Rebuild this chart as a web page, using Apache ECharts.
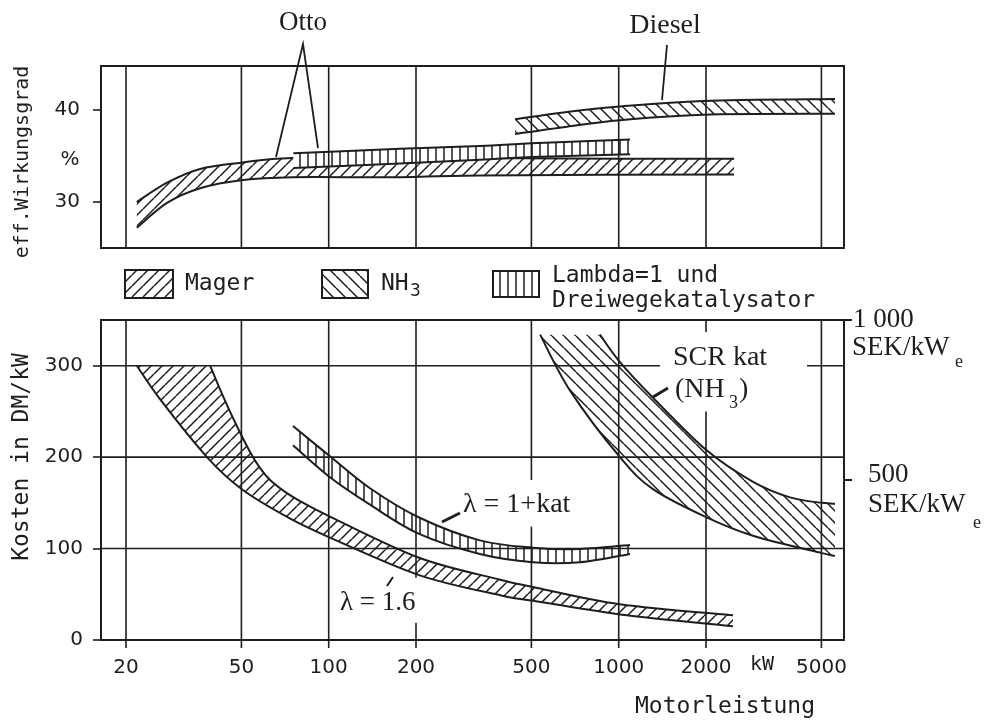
<!DOCTYPE html>
<html>
<head>
<meta charset="utf-8">
<title>Wirkungsgrad und Kosten</title>
<script src="https://cdn.jsdelivr.net/npm/echarts@6/dist/echarts.min.js"></script>
<style>
  html, body { margin: 0; padding: 0; background: #fff; }
  #chart { width: 996px; height: 725px; }
</style>
</head>
<body>
<div id="chart"></div>
<script>
// Achsen
const kwTicks = [20, 50, 100, 200, 500, 1000, 2000, 5000];
const effTicks = [30, 40];
const costTicks = [0, 100, 200, 300];
const sekTicks = [500, 1000];

// eff. Wirkungsgrad in %, Bandränder als [kW, %]
const effMagerTop = [[21.8, 30.0], [27.7, 32.1], [36, 33.6], [50.6, 34.3], [75, 34.8], [200, 34.8], [1000, 34.7], [2500, 34.7]];
const effMagerBottom = [[21.8, 27.2], [27.7, 29.9], [36, 31.5], [50.6, 32.4], [75, 32.7], [176, 32.7], [333, 32.9], [2500, 33.0]];
const effLambdaTop = [[75.5, 35.3], [176, 35.8], [333, 36.1], [500, 36.4], [1094, 36.8]];
const effLambdaBottom = [[75.5, 33.7], [176, 34.2], [333, 34.6], [500, 34.9], [1094, 35.2]];
const effDieselTop = [[439, 39.0], [663, 39.8], [1010, 40.4], [1953, 41.0], [5570, 41.2]];
const effDieselBottom = [[439, 37.4], [663, 38.2], [1010, 38.9], [1953, 39.5], [5570, 39.6]];

// Kosten in DM/kW, Bandränder als [kW, DM/kW]
const costMagerUpper = [[39, 300], [42.9, 269], [47.9, 236], [53.5, 206], [58, 188], [62.8, 175], [70.7, 162], [79.6, 152],
  [101, 135], [205, 90], [390, 66], [506, 58], [1010, 39], [2478, 27]];
const costMagerLower = [[21.8, 300], [26.4, 262], [38.3, 199], [50.6, 164], [73.4, 133], [101, 112], [205, 71], [390, 49],
  [506, 43], [1010, 28], [2478, 15]];
const costLambdaUpper = [[75.3, 234], [101, 201], [138.8, 166], [205, 134], [332, 109], [506, 101], [736, 99.5], [1094, 104]];
const costLambdaLower = [[75.3, 213], [101, 178], [138.8, 148], [205, 116], [332, 94], [506, 85], [736, 85], [1094, 94]];
const costScrUpper = [[862, 334], [1010, 304], [1313, 265], [2000, 208], [2905, 173], [3897, 156], [5024, 150], [5570, 149]];
const costScrLower = [[536, 334], [679, 273], [1010, 200], [1313, 165], [1984, 135], [2905, 114], [5024, 95], [5570, 92]];

// Lücken im Gitter (für Beschriftungen): [kW, von, bis] bzw. [DM/kW, von kW, bis kW]
const costGapsV = [[200, 19, 68], [500, 124, 175], [2000, 250, 337]];
const costGapsH = [[300, 1387, 4460]];

const KW_MIN = 16.4, KW_MAX = 5982;
const ink = '#1e1e1e';
const mono = '"DejaVu Sans Mono", monospace';
const serif = '"Liberation Serif", serif';
const sans = '"DejaVu Sans", sans-serif';

// Schraffur-Muster
function hatch(kind, size) {
  const c = document.createElement('canvas');
  c.width = c.height = size;
  const g = c.getContext('2d');
  g.fillStyle = '#fff';
  g.fillRect(0, 0, size, size);
  g.strokeStyle = ink;
  g.lineWidth = 1.5;
  g.beginPath();
  if (kind === 'vert') {
    g.moveTo(size / 2, 0);
    g.lineTo(size / 2, size);
  } else {
    for (const k of [-size, 0, size]) {
      if (kind === 'fwd') {
        g.moveTo(k, size);
        g.lineTo(k + size, 0);
      } else {
        g.moveTo(k, 0);
        g.lineTo(k + size, size);
      }
    }
  }
  g.stroke();
  return { image: c, repeat: 'repeat' };
}
const patMager = hatch('fwd', 11);
const patNh3 = hatch('back', 12);
const patLambda = hatch('vert', 8);

// glatte Kurve (Catmull-Rom) durch Pixelpunkte
function curvePath(pts, cmd) {
  let d = cmd + pts[0][0] + ',' + pts[0][1];
  for (let i = 0; i < pts.length - 1; i++) {
    const p0 = pts[Math.max(i - 1, 0)], p1 = pts[i], p2 = pts[i + 1], p3 = pts[Math.min(i + 2, pts.length - 1)];
    const c1 = [p1[0] + (p2[0] - p0[0]) / 6, p1[1] + (p2[1] - p0[1]) / 6];
    const c2 = [p2[0] - (p3[0] - p1[0]) / 6, p2[1] - (p3[1] - p1[1]) / 6];
    d += ' C' + c1[0] + ',' + c1[1] + ' ' + c2[0] + ',' + c2[1] + ' ' + p2[0] + ',' + p2[1];
  }
  return d;
}

function bandSeries(name, gi, upper, lower, pattern) {
  return {
    name: name,
    type: 'custom',
    xAxisIndex: gi,
    yAxisIndex: gi,
    z: 3,
    silent: true,
    data: [upper[0]],
    renderItem: (params, api) => {
      const up = upper.map(p => api.coord(p));
      const lo = lower.map(p => api.coord(p));
      const area = curvePath(up, 'M') + ' ' + curvePath(lo.slice().reverse(), 'L') + ' Z';
      return {
        type: 'group',
        children: [
          { type: 'path', shape: { pathData: area }, style: { fill: pattern, stroke: 'none' } },
          { type: 'path', shape: { pathData: curvePath(up, 'M') }, style: { fill: 'none', stroke: ink, lineWidth: 2 } },
          { type: 'path', shape: { pathData: curvePath(lo, 'M') }, style: { fill: 'none', stroke: ink, lineWidth: 2 } }
        ]
      };
    }
  };
}

// Gitterlinien (log. Teilung 20, 50, 100 ...) und x-Beschriftung
function gridSeries(gi, yMin, yMax, hLines, gapsV, gapsH, withLabels) {
  return {
    type: 'custom',
    xAxisIndex: gi,
    yAxisIndex: gi,
    z: 6,
    silent: true,
    data: [[kwTicks[0], yMin]],
    renderItem: (params, api) => {
      const children = [];
      const seg = (a, b) => children.push({
        type: 'line',
        shape: { x1: a[0], y1: a[1], x2: b[0], y2: b[1] },
        style: { stroke: ink, lineWidth: 1.6 }
      });
      kwTicks.forEach(v => {
        let from = yMin;
        gapsV.filter(g => g[0] === v).forEach(g => {
          seg(api.coord([v, from]), api.coord([v, g[1]]));
          from = g[2];
        });
        seg(api.coord([v, from]), api.coord([v, yMax]));
        if (withLabels) {
          const p = api.coord([v, yMin]);
          seg(p, [p[0], p[1] + 8]);
          children.push({
            type: 'text', x: p[0], y: p[1] + 28,
            style: { text: String(v), font: '20px ' + sans, fill: ink, textAlign: 'center', textVerticalAlign: 'middle' }
          });
        }
      });
      hLines.forEach(h => {
        let from = KW_MIN;
        gapsH.filter(g => g[0] === h).forEach(g => {
          seg(api.coord([from, h]), api.coord([g[1], h]));
          from = g[2];
        });
        seg(api.coord([from, h]), api.coord([KW_MAX, h]));
      });
      return { type: 'group', children: children };
    }
  };
}

function txt(text, x, y, font, align, extra) {
  return Object.assign({
    type: 'text', x: x, y: y, silent: true, z: 20,
    style: { text: text, font: font, fill: ink, textAlign: align || 'left', textVerticalAlign: 'middle' }
  }, extra || {});
}
function lead(points, width) {
  return { type: 'polyline', silent: true, z: 20, shape: { points: points }, style: { stroke: ink, lineWidth: width || 1.8, fill: 'none' } };
}
function legendBox(x, y, w, h, pattern) {
  return { type: 'rect', silent: true, z: 20, shape: { x: x, y: y, width: w, height: h }, style: { fill: pattern, stroke: ink, lineWidth: 2 } };
}

const tickLabel = { fontFamily: sans, fontSize: 20, color: ink };

const chart = echarts.init(document.getElementById('chart'), null, { renderer: 'canvas' });
chart.setOption({
  animation: false,
  backgroundColor: '#fff',
  grid: [
    { left: 101, top: 66, width: 743, height: 182, show: true, borderWidth: 2, borderColor: ink },
    { left: 101, top: 320, width: 743, height: 320, show: true, borderWidth: 2, borderColor: ink }
  ],
  xAxis: [0, 1].map(i => ({
    type: 'log', logBase: 10, gridIndex: i, min: KW_MIN, max: KW_MAX,
    axisLine: { show: false }, axisTick: { show: false }, axisLabel: { show: false }, splitLine: { show: false }
  })),
  yAxis: [
    {
      type: 'value', gridIndex: 0, min: 25, max: 44.8,
      axisLine: { show: false }, splitLine: { show: false },
      axisTick: { show: true, length: 8, customValues: effTicks, lineStyle: { color: ink, width: 1.6 } },
      axisLabel: Object.assign({ customValues: effTicks, margin: 21 }, tickLabel)
    },
    {
      type: 'value', gridIndex: 1, min: 0, max: 350,
      axisLine: { show: false }, splitLine: { show: false },
      axisTick: { show: true, length: 8, customValues: costTicks, lineStyle: { color: ink, width: 1.6 } },
      axisLabel: Object.assign({ customValues: costTicks, margin: 18 }, tickLabel)
    },
    {
      type: 'value', gridIndex: 1, position: 'right', min: 0, max: 1000,
      axisLine: { show: false }, splitLine: { show: false },
      axisTick: { show: true, length: 8, customValues: sekTicks, lineStyle: { color: ink, width: 2 } },
      axisLabel: { show: false }
    }
  ],
  series: [
    bandSeries('Mager', 0, effMagerTop, effMagerBottom, patMager),
    bandSeries('Diesel NH3', 0, effDieselTop, effDieselBottom, patNh3),
    bandSeries('Lambda=1 und Dreiwegekatalysator', 0, effLambdaTop, effLambdaBottom, patLambda),
    bandSeries('λ = 1.6', 1, costMagerUpper, costMagerLower, patMager),
    bandSeries('λ = 1+kat', 1, costLambdaUpper, costLambdaLower, patLambda),
    bandSeries('SCR kat (NH3)', 1, costScrUpper, costScrLower, patNh3),
    gridSeries(0, 25, 44.8, [], [], [], false),
    gridSeries(1, 0, 350, [100, 200, 300], costGapsV, costGapsH, true)
  ],
  graphic: [
    txt('eff.Wirkungsgrad', 23, 162, '20px ' + mono, 'center', { rotation: Math.PI / 2 }),
    txt('%', 70, 160, '20px ' + sans, 'center'),
    txt('Kosten in DM/kW', 22, 457, '23px ' + mono, 'center', { rotation: Math.PI / 2 }),
    txt('Motorleistung', 725, 707, '23px ' + mono, 'center'),
    txt('kW', 762, 665, '20px ' + mono, 'center'),

    txt('Otto', 303, 23, '27px ' + serif, 'center'),
    lead([[276, 157], [303, 44], [318, 148]]),
    txt('Diesel', 665, 26, '28px ' + serif, 'center'),
    lead([[667, 45], [662, 100]]),

    legendBox(125, 270, 48, 28, patMager),
    txt('Mager', 185, 284, '23px ' + mono),
    legendBox(322, 270, 46, 28, patNh3),
    txt('NH', 381, 284, '23px ' + mono),
    txt('3', 410, 291, '18px ' + mono),
    legendBox(493, 271, 46, 26, patLambda),
    txt('Lambda=1 und', 552, 276, '23px ' + mono),
    txt('Dreiwegekatalysator', 552, 301, '23px ' + mono),

    txt('SCR kat', 673, 358, '28px ' + serif),
    txt('(NH', 675, 390, '28px ' + serif),
    txt('3', 729, 403, '18px ' + serif),
    txt(')', 739, 390, '28px ' + serif),
    lead([[653, 397], [668, 388]], 3),
    txt('λ = 1+kat', 463, 505, '28px ' + serif),
    lead([[442, 522], [460, 513]], 3),
    txt('λ = 1.6', 340, 603, '27px ' + serif),
    lead([[387, 586], [393, 577]], 2),

    txt('1 000', 853, 320, '27px ' + serif),
    txt('SEK/kW', 852, 348, '27px ' + serif),
    txt('e', 955, 362, '18px ' + serif),
    txt('500', 868, 475, '27px ' + serif),
    txt('SEK/kW', 868, 505, '27px ' + serif),
    txt('e', 973, 523, '18px ' + serif)
  ]
});
</script>
</body>
</html>
